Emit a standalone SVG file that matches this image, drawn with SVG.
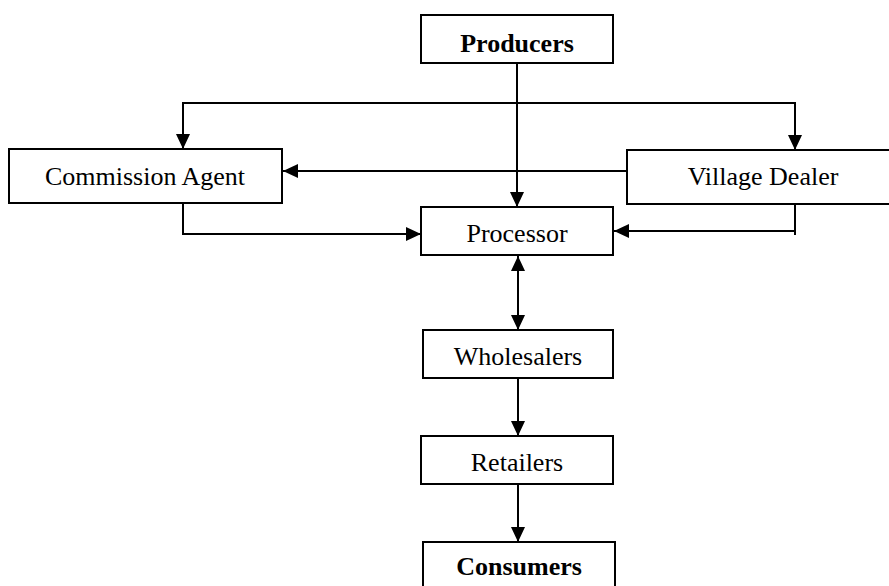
<svg xmlns="http://www.w3.org/2000/svg" width="889" height="586" viewBox="0 0 889 586">
<style>
.box{fill:#fff;stroke:#000;stroke-width:2}
.t{font-family:"Liberation Serif","Times New Roman",serif;font-size:26px;fill:#000;text-anchor:middle}
.b{font-weight:bold}
.c{fill:none;stroke:#000;stroke-width:2}
</style>
<defs>
<marker id="ah" markerUnits="userSpaceOnUse" markerWidth="16" markerHeight="14" refX="15" refY="7" orient="auto-start-reverse">
<path d="M0,0 L15,7 L0,14 Z" fill="#000"/>
</marker>
</defs>
<g id="connectors">
<path class="c" d="M183,149 V103 H795 V150" marker-start="url(#ah)" marker-end="url(#ah)"/>
<path class="c" d="M517,63 V207" marker-end="url(#ah)"/>
<path class="c" d="M627,171 H283" marker-end="url(#ah)"/>
<path class="c" d="M183,203 V234 H421" marker-end="url(#ah)"/>
<path class="c" d="M795,204 V235 M795,231 H614" marker-end="url(#ah)"/>
<path class="c" d="M518,256 V330" marker-start="url(#ah)" marker-end="url(#ah)"/>
<path class="c" d="M518,378 V436" marker-end="url(#ah)"/>
<path class="c" d="M518,484 V542" marker-end="url(#ah)"/>
</g>
<g id="producers">
<rect class="box" x="421" y="15" width="192" height="48"/>
<text class="t b" x="517" y="52">Producers</text>
</g>
<g id="commission-agent">
<rect class="box" x="9" y="149" width="273" height="54"/>
<text class="t" x="145" y="185">Commission Agent</text>
</g>
<g id="village-dealer">
<rect class="box" x="627" y="150" width="272" height="54"/>
<text class="t" x="763" y="185">Village Dealer</text>
</g>
<g id="processor">
<rect class="box" x="421" y="207" width="192" height="48"/>
<text class="t" x="517" y="242">Processor</text>
</g>
<g id="wholesalers">
<rect class="box" x="423" y="330" width="190" height="48"/>
<text class="t" x="518" y="365">Wholesalers</text>
</g>
<g id="retailers">
<rect class="box" x="421" y="436" width="192" height="48"/>
<text class="t" x="517" y="471">Retailers</text>
</g>
<g id="consumers">
<rect class="box" x="423" y="542" width="192" height="60"/>
<text class="t b" x="519" y="575">Consumers</text>
</g>
</svg>
